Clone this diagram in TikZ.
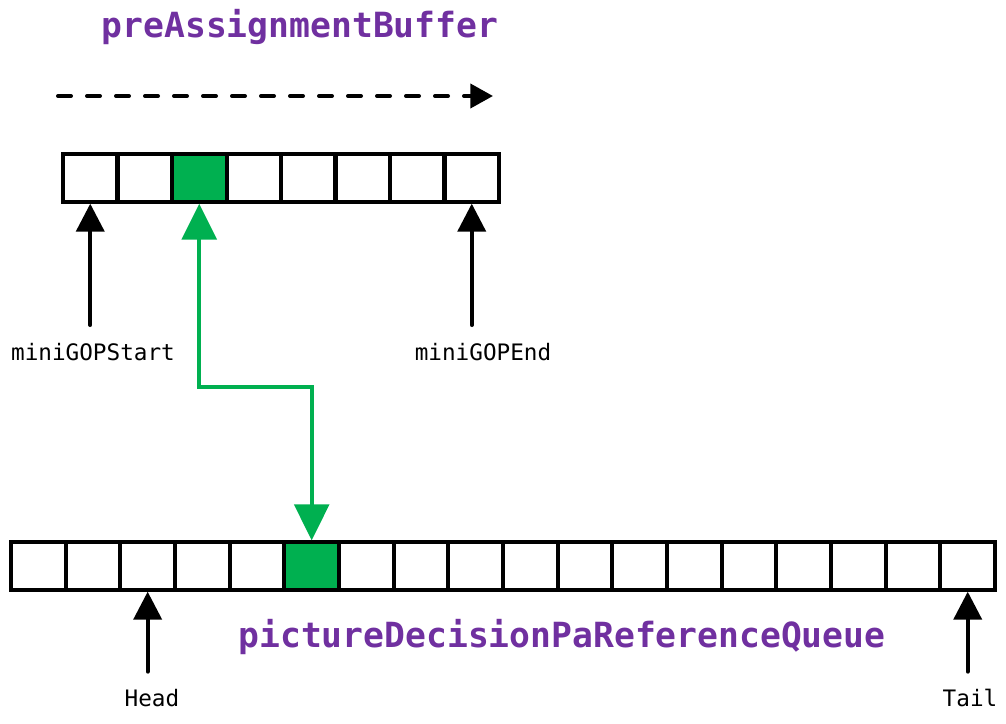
\documentclass[tikz,border=0pt]{standalone}
\usepackage{fontspec}
\setmonofont{DejaVu Sans Mono}
\usetikzlibrary{arrows.meta}
\definecolor{qgreen}{HTML}{00B050}
\definecolor{qpurple}{HTML}{7030A0}
\begin{document}
\begin{tikzpicture}[x=0.75pt,y=-0.75pt,
  cell/.style={draw,line width=3pt,minimum width=40.9pt,minimum height=35.5pt,inner sep=0pt},
  hot/.style={cell,fill=qgreen},
  ptr/.style={-{Triangle[length=21pt,width=21pt]},line width=3pt,line cap=round},
  link/.style={{Triangle[length=27pt,width=26pt]}-{Triangle[length=27pt,width=26pt]},line width=3pt,qgreen},
  lbl/.style={font=\ttfamily\fontsize{17}{20}\selectfont},
  ttl/.style={font=\ttfamily\bfseries\fontsize{26}{30}\selectfont,text=qpurple}]
\useasboundingbox (0,0) rectangle (1006,724);
% preAssignmentBuffer
\node[ttl] (tBuf) at (300,27) {preAssignmentBuffer};
\coordinate (dA) at (58,96);
\coordinate (dB) at (493,96);
\draw[-{Triangle[length=17pt,width=18pt]},line width=3pt,line cap=round,dash pattern=on 9.75pt off 12pt] (dA) -- (dB);
\foreach \i in {1,...,8}
  \node[cell] (t\i) at ({63+54.5*(\i-0.5)},178) {};
\node[hot] at (t3) {};
% pictureDecisionPaReferenceQueue
\foreach \i in {1,...,18}
  \node[cell] (q\i) at ({11+54.67*(\i-0.5)},566) {};
\node[hot] at (q6) {};
\node[ttl] (tQueue) at (562,637) {pictureDecisionPaReferenceQueue};
% pointers
\coordinate (sStart) at ([yshift=-91pt]t1.south);
\coordinate (sEnd) at ([yshift=-91pt]t8.south);
\coordinate (sHead) at ([yshift=-60pt]q3.south);
\coordinate (sTail) at ([yshift=-60pt]q18.south);
\draw[ptr] (sStart) -- (t1.south);
\draw[ptr] (sEnd) -- (t8.south);
\draw[ptr] (sHead) -- (q3.south);
\draw[ptr] (sTail) -- (q18.south);
\node[lbl] (lStart) at (93,352) {miniGOPStart};
\node[lbl] (lEnd) at (483,352) {miniGOPEnd};
\node[lbl] (lHead) at (152,698) {Head};
\node[lbl] (lTail) at (970,698) {Tail};
% link between the two entries
\coordinate (gturn) at (250,387);
\draw[link] (t3.south) |- (gturn) -| (q6.north);
\end{tikzpicture}
\end{document}
